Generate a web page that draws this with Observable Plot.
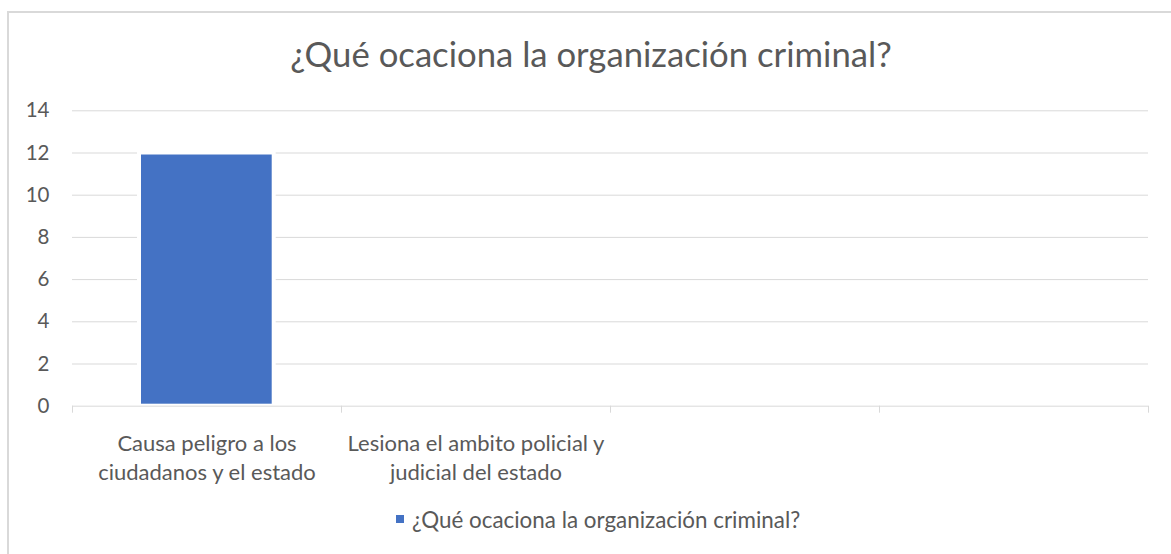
<!DOCTYPE html>
<html><head><meta charset="utf-8">
<script src="https://cdn.jsdelivr.net/npm/d3@7"></script>
<script src="https://cdn.jsdelivr.net/npm/@observablehq/plot@0.6"></script>
<style>
body{margin:0;background:#fff;overflow:hidden;}
#wrap{position:relative;width:1171px;height:554px;overflow:hidden;font-family:Lato,sans-serif;color:#595959;}
#frame{position:absolute;left:7px;top:11px;width:1200px;height:600px;border:2px solid #d9d9d9;box-sizing:border-box;}
#title{position:absolute;top:37px;left:0;width:1182px;text-align:center;font-size:34.7px;line-height:34.7px;white-space:nowrap;}
#chart{position:absolute;left:0;top:90px;}
#legend{position:absolute;top:508px;left:396px;height:22px;font-size:22.4px;display:flex;align-items:center;white-space:nowrap;}
#legend .sw{width:8px;height:8px;background:#4472c4;margin-right:8px;}
</style></head>
<body>
<div id="wrap">
  <div id="frame"></div>
  <div id="title"></div>
  <div id="chart"></div>
  <div id="legend"><span class="sw"></span><span id="legtext"></span></div>
</div>
<script>
const chartTitle = "¿Qué ocaciona la organización criminal?";
const seriesName = "¿Qué ocaciona la organización criminal?";
const categories = [
  "Causa peligro a los\nciudadanos y el estado",
  "Lesiona el ambito policial y\njudicial del estado",
  "",
  ""
];
const values = [12, 0, 0, 0];
const yTicks = [0, 2, 4, 6, 8, 10, 12, 14];

document.getElementById("title").textContent = chartTitle;
document.getElementById("legtext").textContent = seriesName;

const data = categories.map((c, i) => ({i, label: c, value: values[i]}));
const slotEdges = d3.range(categories.length + 1);

const chart = Plot.plot({
  width: 1171,
  height: 410,
  marginLeft: 72,
  marginRight: 23,
  marginTop: 20.3,
  marginBottom: 94.3,
  style: {fontFamily: "Lato, sans-serif", color: "#595959", background: "transparent"},
  x: {domain: [0, categories.length], axis: null},
  y: {domain: [0, 14], label: null},
  marks: [
    Plot.ruleY(yTicks.filter(t => t > 0), {stroke: "#d9d9d9", strokeWidth: 1}),
    Plot.rectY(data.filter(d => d.value > 0), {
      x1: d => d.i, x2: d => d.i + 1, y1: 0, y2: "value",
      fill: "#4472c4", stroke: "#ffffff", strokeWidth: 4,
      insetLeft: 67, insetRight: 67.3
    }),
    Plot.ruleY([0], {stroke: "#d9d9d9", strokeWidth: 1}),
    Plot.axisX({ticks: slotEdges, tickSize: 7, tickFormat: () => "", stroke: "#d9d9d9", anchor: "bottom", label: null}),
    Plot.text(data, {
      x: d => d.i + 0.5, y: () => 0, text: "label",
      lineAnchor: "top", dy: 23.7, lineHeight: 1.33,
      fontSize: 22, fill: "#595959"
    }),
    Plot.axisY({ticks: yTicks, tickSize: 0, tickPadding: 23, fontSize: 20.5, fill: "#595959", anchor: "left", label: null})
  ]
});
document.getElementById("chart").appendChild(chart);
</script>
</body></html>
